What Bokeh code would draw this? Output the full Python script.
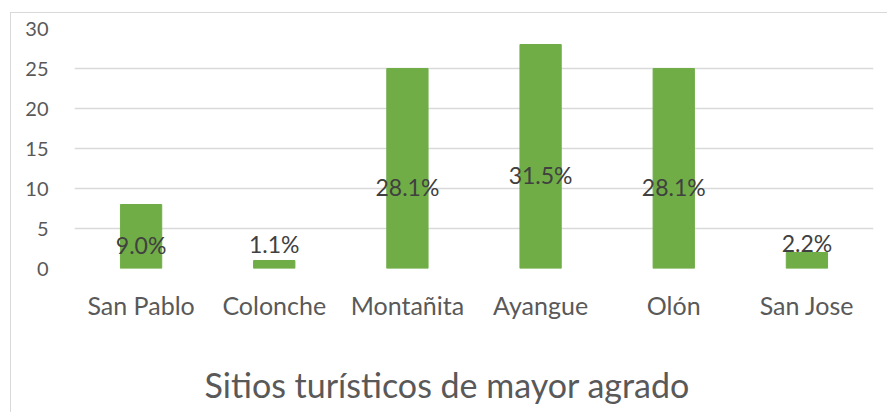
from bokeh.plotting import figure
from bokeh.models import ColumnDataSource, FactorRange, Range1d, FixedTicker, Title, InlineStyleSheet
from bokeh.core.properties import value
from bokeh.embed import file_html
from bokeh.resources import INLINE

sites = ["San Pablo", "Colonche", "Montañita", "Ayangue", "Olón", "San Jose"]
counts = [8, 1, 25, 28, 25, 2]
pct_labels = ["9.0%", "1.1%", "28.1%", "31.5%", "28.1%", "2.2%"]
label_y = [3.0, 3.1, 10.25, 11.75, 10.25, 3.25]
y_ticks = [0, 5, 10, 15, 20, 25, 30]
title_text = "Sitios turísticos de mayor agrado"

FONT = "Lato"
src = ColumnDataSource(dict(x=sites, top=counts, lab=pct_labels, ly=label_y))

border_css = InlineStyleSheet(css="""
:host { position: relative; }
:host::after {
  content: ""; position: absolute; left: 10px; top: 12px; right: -8px; bottom: -8px;
  border-left: 1.5px solid #d9d9d9; border-top: 1.5px solid #d9d9d9;
  pointer-events: none;
}
""")

p = figure(width=879, height=406, output_backend="svg", toolbar_location=None,
           x_range=FactorRange(*sites, range_padding=0), y_range=Range1d(0, 30),
           min_border_left=74, min_border_right=6, min_border_top=28, min_border_bottom=0,
           stylesheets=[border_css])
p.outline_line_color = None
p.background_fill_color = "white"
p.border_fill_color = "white"

p.vbar(x="x", top="top", width=0.31, source=src, color="#70AD47")
p.text(x="x", y="ly", text="lab", source=src, text_align="center", text_baseline="middle",
       text_font=value(FONT), text_font_size="23px", text_color="#404040")

p.yaxis.ticker = FixedTicker(ticks=y_ticks)
p.yaxis.axis_line_color = None
p.yaxis.major_tick_line_color = None
p.yaxis.minor_tick_line_color = None
p.yaxis.major_label_standoff = 20
p.yaxis.major_label_text_font = FONT
p.yaxis.major_label_text_font_size = "20px"
p.yaxis.major_label_text_color = "#595959"

p.xaxis.axis_line_color = None
p.xaxis.major_tick_line_color = None
p.xaxis.major_label_standoff = 15
p.xaxis.major_label_text_font = FONT
p.xaxis.major_label_text_font_size = "25px"
p.xaxis.major_label_text_color = "#595959"
# invisible spacer label to leave room between category labels and the title
p.xaxis.axis_label = "\u200b"
p.xaxis.axis_label_text_font_size = "1px"
p.xaxis.axis_label_standoff = 37

p.xgrid.grid_line_color = None
p.ygrid.grid_line_color = "#d9d9d9"
p.ygrid.grid_line_width = 1.5

title = Title(text=title_text, align="left", offset=130, standoff=0, vertical_align="top",
              text_font=FONT, text_font_size="34px", text_font_style="normal",
              text_color="#595959")
p.add_layout(title, "below")

open("out.html", "w").write(file_html(p, INLINE))
